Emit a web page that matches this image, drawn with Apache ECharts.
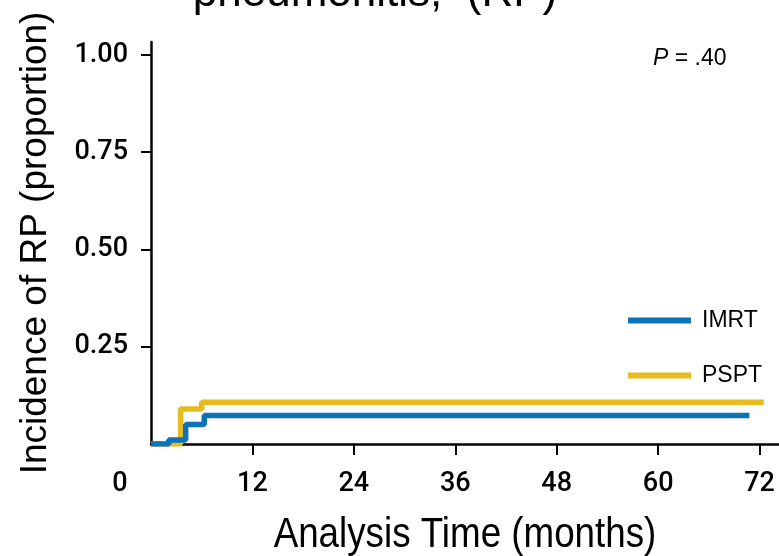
<!DOCTYPE html>
<html><head><meta charset="utf-8">
<script src="https://cdn.jsdelivr.net/npm/echarts@6/dist/echarts.min.js"></script>
<style>html,body{margin:0;padding:0;background:#fff}#c{width:779px;height:556px}</style>
</head><body><div id="c"></div>
<script>
const xTicks = [12, 24, 36, 48, 60, 72];
const yTicks = [0.25, 0.5, 0.75, 1.0];
const imrtTime = [0, 2.1, 4.1, 6.3, 70.8];
const imrtInc  = [0, 0.01, 0.05, 0.073, 0.073];
const psptTime = [0, 3.5, 6.0, 72.5];
const psptInc  = [0, 0.09, 0.107, 0.107];
const seriesNames = ['IMRT', 'PSPT'];
const colors = ['#0B74B8', '#E9BA1F'];
const xTitle = 'Analysis Time (months)';
const yTitle = 'Incidence of RP (proportion)';
const topTitle = 'pneumonitis,  (RP)';
const pText = '= .40';

const pair = (t, v) => t.map((x, i) => [x, v[i]]);
const numFont = 'Roboto, sans-serif';
const sansFont = 'Liberation Sans, Arial, sans-serif';
const chart = echarts.init(document.getElementById('c'));
chart.setOption({
  animation: false,
  grid: { left: 151, top: 42, right: 0, bottom: 112, containLabel: false },
  xAxis: {
    type: 'value', min: 0, max: 74.3, interval: 12,
    axisLine: { lineStyle: { color: '#000', width: 2.5 } },
    axisTick: { show: true, length: 11, customValues: xTicks, lineStyle: { color: '#000', width: 2 } },
    axisLabel: { customValues: xTicks, margin: 27, color: '#000', fontSize: 27, fontWeight: 500, fontFamily: numFont },
    splitLine: { show: false }
  },
  yAxis: {
    type: 'value', min: 0, max: 1.033, interval: 0.25,
    axisLine: { show: true, lineStyle: { color: '#000', width: 2.5 } },
    axisTick: { show: true, length: 10, customValues: yTicks, lineStyle: { color: '#000', width: 2 } },
    axisLabel: { customValues: yTicks, margin: 23, color: '#000', fontSize: 27, fontWeight: 500, fontFamily: numFont,
      formatter: v => v.toFixed(2) },
    splitLine: { show: false }
  },
  legend: {
    orient: 'vertical', left: 623, top: 304, itemGap: 32, itemWidth: 63, itemHeight: 6,
    data: seriesNames.map((n) => ({ name: n, icon: 'rect' })),
    textStyle: { color: '#000', fontSize: 23, fontFamily: sansFont, padding: [0, 0, 0, 6] }
  },
  series: [
    { name: seriesNames[0], type: 'line', step: 'end', symbol: 'none', z: 5, data: pair(imrtTime, imrtInc),
      lineStyle: { color: colors[0], width: 5.5 }, itemStyle: { color: colors[0] } },
    { name: seriesNames[1], type: 'line', step: 'end', symbol: 'none', z: 4, data: pair(psptTime, psptInc),
      lineStyle: { color: colors[1], width: 5.5 }, itemStyle: { color: colors[1] } }
  ],
  graphic: [
    { type: 'text', x: 120, y: 484, style: { text: '0', fontSize: 27, fontWeight: 500, fill: '#000', fontFamily: numFont, align: 'center', verticalAlign: 'middle' } },
    { type: 'text', x: 465, y: 535, scaleX: 0.855, style: { text: xTitle, fontSize: 43, fill: '#000', fontFamily: sansFont, align: 'center', verticalAlign: 'middle' } },
    { type: 'text', x: 36, y: 243, rotation: Math.PI / 2, style: { text: yTitle, fontSize: 37, fill: '#000', fontFamily: sansFont, align: 'center', verticalAlign: 'middle' } },
    { type: 'text', x: 653, y: 59, style: { text: '{i|P} ' + pText, fill: '#000', fontSize: 23, fontFamily: sansFont, verticalAlign: 'middle',
      rich: { i: { fontStyle: 'italic', fontSize: 23, fontFamily: sansFont, fill: '#000' } } } },
    { type: 'text', x: 375, y: -28, style: { text: topTitle, fontSize: 44, fill: '#000', align: 'center', fontFamily: sansFont } }
  ]
});
</script></body></html>
